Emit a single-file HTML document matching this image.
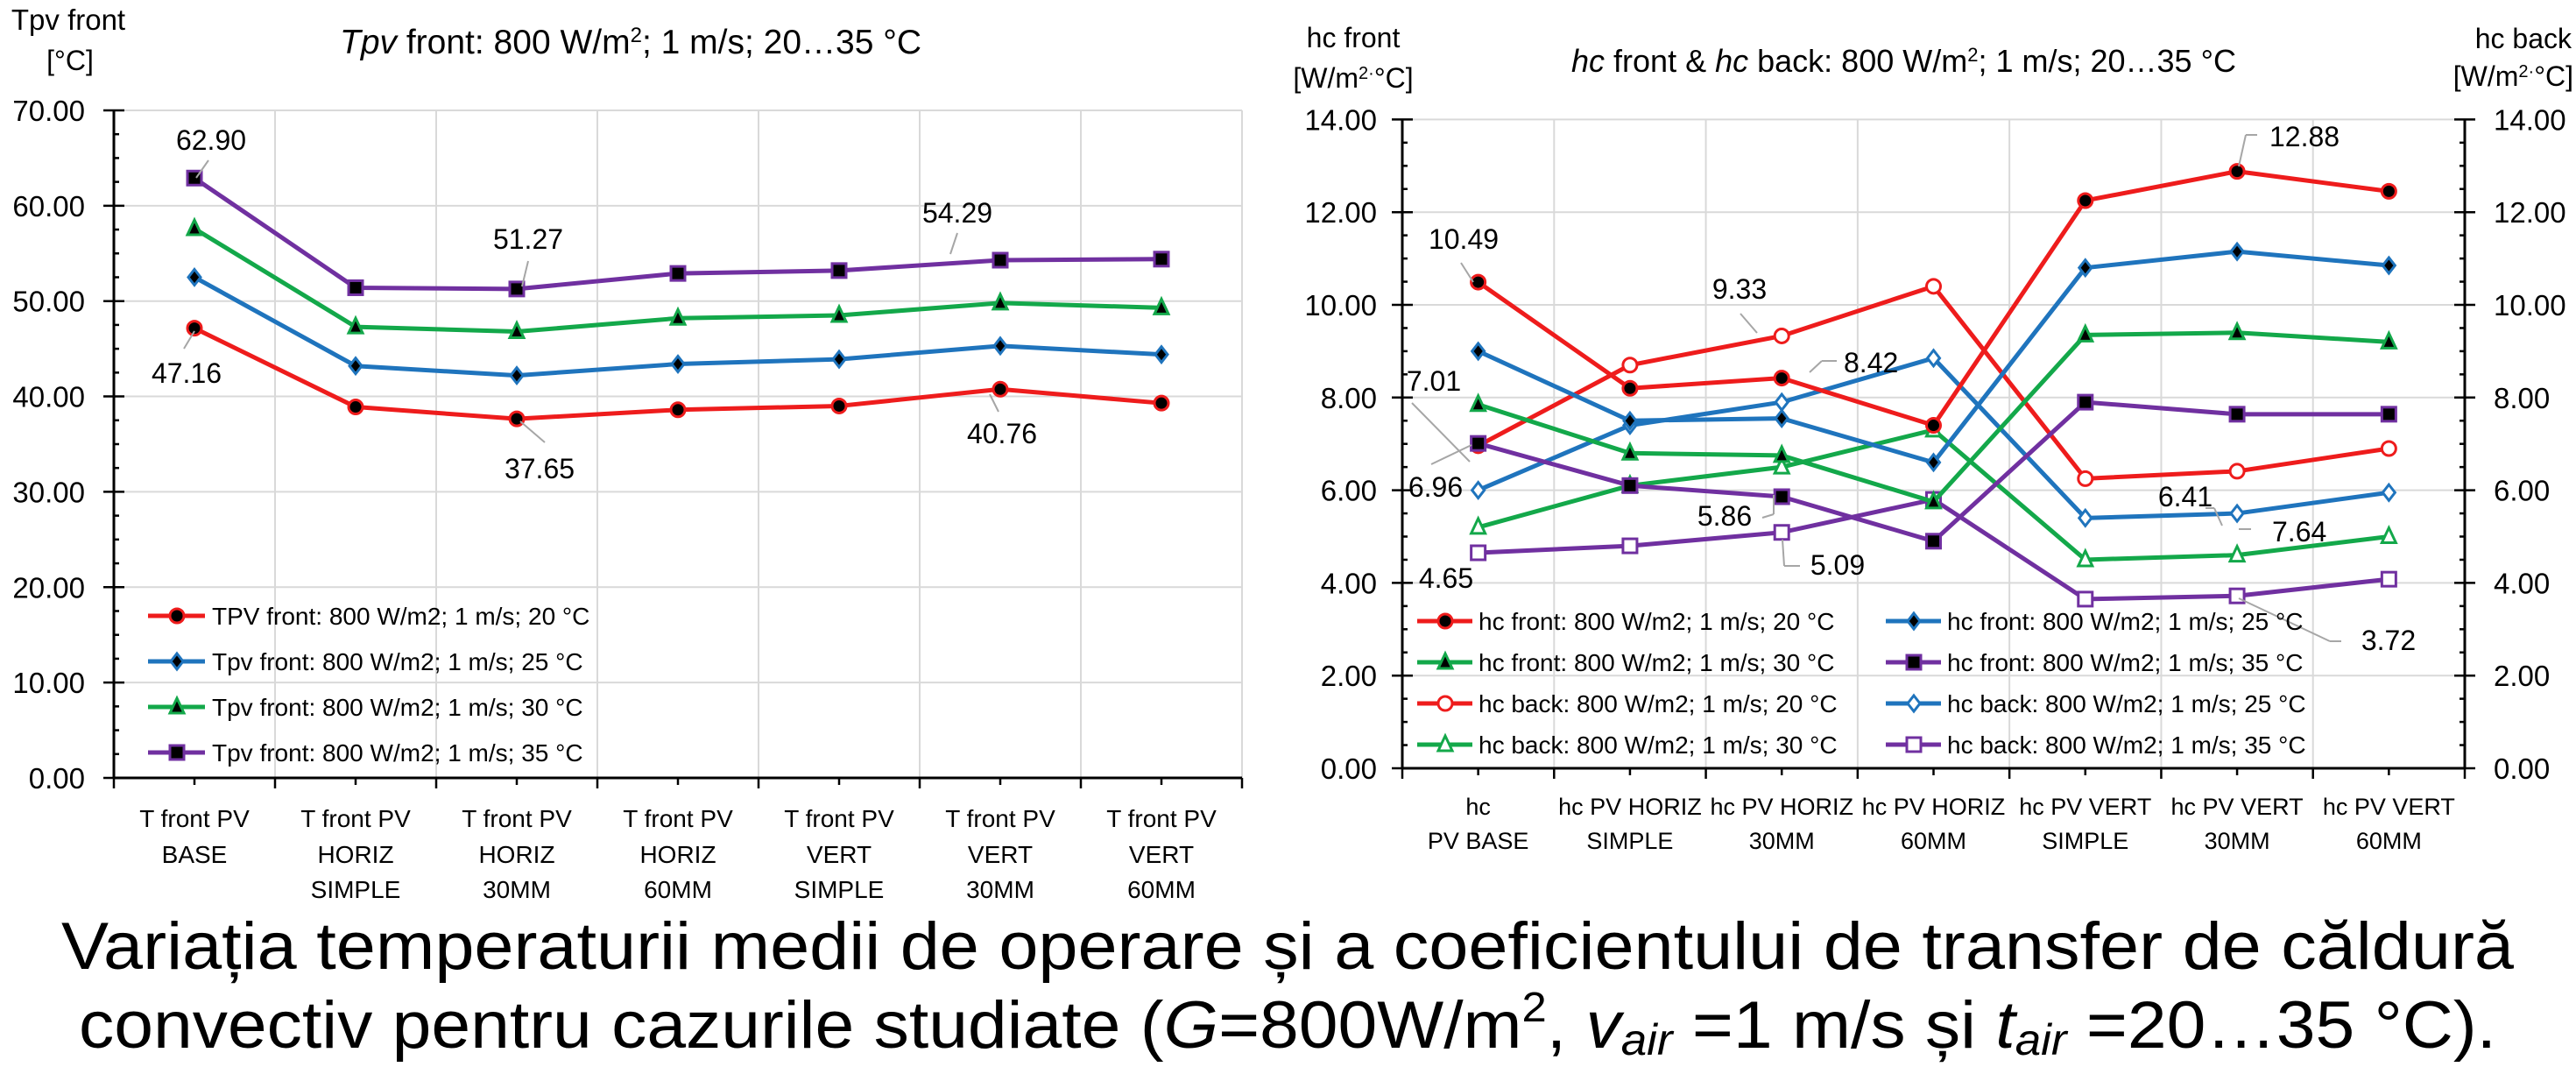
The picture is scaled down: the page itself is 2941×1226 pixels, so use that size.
<!DOCTYPE html>
<html><head><meta charset="utf-8"><style>
html,body{margin:0;padding:0;background:#fff;}
svg{display:block;font-family:"Liberation Sans",sans-serif;}
</style></head><body>
<svg id="s" width="2941" height="1226" xmlns="http://www.w3.org/2000/svg">
<rect width="2941" height="1226" fill="#fff"/>
<text x="78" y="34" font-size="33" text-anchor="middle">Tpv front</text>
<text x="80" y="80" font-size="32" text-anchor="middle">[°C]</text>
<text x="388" y="61" font-size="39"><tspan font-style="italic">Tpv</tspan> front: 800 W/m<tspan font-size="24" dy="-13">2</tspan><tspan dy="13">; 1 m/s; 20…35 °C</tspan></text>
<text x="1545" y="54" font-size="32" text-anchor="middle">hc front</text>
<text x="1545" y="100" font-size="32" text-anchor="middle">[W/m<tspan font-size="20" dy="-10">2·</tspan><tspan dy="10">°C]</tspan></text>
<text x="1794" y="82" font-size="36"><tspan font-style="italic">hc</tspan> front &amp; <tspan font-style="italic">hc</tspan> back: 800 W/m<tspan font-size="22" dy="-12">2</tspan><tspan dy="12">; 1 m/s; 20…35 °C</tspan></text>
<text x="2936" y="55" font-size="32" text-anchor="end">hc back</text>
<text x="2938" y="98" font-size="32" text-anchor="end">[W/m<tspan font-size="20" dy="-10">2·</tspan><tspan dy="10">°C]</tspan></text>
<text x="1470" y="1106" font-size="76" text-anchor="middle" textLength="2800" lengthAdjust="spacingAndGlyphs">Variația temperaturii medii de operare și a coeficientului de transfer de căldură</text>
<text x="1470" y="1196" font-size="76" text-anchor="middle" textLength="2760" lengthAdjust="spacingAndGlyphs">convectiv pentru cazurile studiate (<tspan font-style="italic">G</tspan>=800W/m<tspan font-size="48" dy="-30">2</tspan><tspan dy="30">, </tspan><tspan font-style="italic">v</tspan><tspan font-style="italic" font-size="50" dy="8">air</tspan><tspan dy="-8"> =1 m/s și </tspan><tspan font-style="italic">t</tspan><tspan font-style="italic" font-size="50" dy="8">air</tspan><tspan dy="-8"> =20…35 °C).</tspan></text>
<g id="g"></g>
</svg>
<script>
var NS="http://www.w3.org/2000/svg",g=document.getElementById('g');
function el(t,a,txt){var e=document.createElementNS(NS,t);for(var k in a)e.setAttribute(k,a[k]);if(txt!=null)e.textContent=txt;g.appendChild(e);return e;}
var RED='#ee1c1c',BLUE='#1f74bd',GREEN='#13a84a',PUR='#7030a0';
function marker(type,x,y,col,filled){
 var f=filled?'#000':'#fff',sw=3;
 if(type=='c')el('circle',{cx:x,cy:y,r:8,fill:f,stroke:col,'stroke-width':sw});
 else if(type=='d')el('polygon',{points:(x)+','+(y-9)+' '+(x+7)+','+y+' '+x+','+(y+9)+' '+(x-7)+','+y,fill:f,stroke:col,'stroke-width':sw});
 else if(type=='t')el('polygon',{points:x+','+(y-10)+' '+(x+8)+','+(y+7)+' '+(x-8)+','+(y+7),fill:f,stroke:col,'stroke-width':sw});
 else el('rect',{x:x-8,y:y-8,width:16,height:16,fill:f,stroke:col,'stroke-width':sw});
}
function series(xs,ys,col,type,filled){
 var p=xs.map(function(x,i){return x+','+ys[i]}).join(' ');
 el('polyline',{points:p,fill:'none',stroke:col,'stroke-width':5,'stroke-linejoin':'round'});
 xs.forEach(function(x,i){marker(type,x,ys[i],col,filled)});
}
var L0=130,L1=1418,LY0=888,LS=10.886;
function ly(v){return LY0-v*LS}
for(var v=0;v<=70;v+=10){el('line',{x1:L0,x2:L1,y1:ly(v),y2:ly(v),stroke:'#d9d9d9','stroke-width':2});
 el('text',{x:97,y:ly(v)+12,'font-size':33,'text-anchor':'end'},v.toFixed(2));}
for(var i=1;i<=7;i++){var x=L0+i*184;el('line',{x1:x,x2:x,y1:ly(70),y2:LY0,stroke:'#d9d9d9','stroke-width':2});}
for(var v=0;v<=70;v+=2.5){el('line',{x1:L0-(v%10==0?12:0),x2:L0+(v%10==0?12:6),y1:ly(v),y2:ly(v),stroke:'#000','stroke-width':2.5});}
el('line',{x1:L0,x2:L0,y1:ly(70),y2:LY0,stroke:'#000','stroke-width':3});
el('line',{x1:L0,x2:L1,y1:LY0,y2:LY0,stroke:'#000','stroke-width':3});
for(var i=0;i<=14;i++){var x=L0+i*92;el('line',{x1:x,x2:x,y1:LY0,y2:LY0+(i%2==0?12:8),stroke:'#000','stroke-width':2.5});}
var lx=[];for(var i=0;i<7;i++)lx.push(L0+92+i*184);
var l2=['BASE','HORIZ','HORIZ','HORIZ','VERT','VERT','VERT'],l3=['','SIMPLE','30MM','60MM','SIMPLE','30MM','60MM'];
lx.forEach(function(x,i){el('text',{x:x,y:944,'font-size':28,'text-anchor':'middle'},'T front PV');el('text',{x:x,y:985,'font-size':28,'text-anchor':'middle'},l2[i]);if(l3[i])el('text',{x:x,y:1025,'font-size':28,'text-anchor':'middle'},l3[i]);});
var T20=[47.16,38.9,37.65,38.6,39.0,40.76,39.3],T25=[52.5,43.2,42.2,43.4,43.9,45.3,44.4],T30=[57.6,47.3,46.8,48.2,48.5,49.8,49.3],T35=[62.90,51.4,51.27,52.9,53.2,54.29,54.4];
series(lx,T20.map(ly),RED,'c',1);series(lx,T25.map(ly),BLUE,'d',1);series(lx,T30.map(ly),GREEN,'t',1);series(lx,T35.map(ly),PUR,'s',1);
function lead(x1,y1,x2,y2){el('line',{x1:x1,y1:y1,x2:x2,y2:y2,stroke:'#a6a6a6','stroke-width':2});}
function lab(x,y,t,a){el('text',{x:x,y:y,'font-size':32,'text-anchor':a||'middle'},t);}
lab(241,171,'62.90');lead(238,183,224,203);
lab(213,437,'47.16');lead(210,398,222,378);
lab(603,284,'51.27');lead(603,298,596,327);
lab(616,546,'37.65');lead(622,505,594,481);
lab(1093,254,'54.29');lead(1093,266,1085,290);
lab(1144,506,'40.76');lead(1140,470,1130,450);
var legL=['TPV front: 800 W/m2; 1 m/s; 20 °C','Tpv front: 800 W/m2; 1 m/s; 25 °C','Tpv front: 800 W/m2; 1 m/s; 30 °C','Tpv front: 800 W/m2; 1 m/s; 35 °C'];
var cols=[RED,BLUE,GREEN,PUR],typs=['c','d','t','s'];
legL.forEach(function(t,i){var y=703+i*52;el('line',{x1:169,x2:234,y1:y,y2:y,stroke:cols[i],'stroke-width':5});marker(typs[i],202,y,cols[i],1);el('text',{x:242,y:y+10,'font-size':28},t);});
var R0=1601,R1=2814,RY0=877,RS=52.9;
function ry(v){return RY0-v*RS}
for(var v=0;v<=14;v+=2){el('line',{x1:R0,x2:R1,y1:ry(v),y2:ry(v),stroke:'#d9d9d9','stroke-width':2});
 el('text',{x:1572,y:ry(v)+12,'font-size':33,'text-anchor':'end'},v.toFixed(2));
 el('text',{x:2847,y:ry(v)+12,'font-size':33},v.toFixed(2));}
var RW=(R1-R0)/7;
for(var i=1;i<7;i++){var x=R0+i*RW;el('line',{x1:x,x2:x,y1:ry(14),y2:RY0,stroke:'#d9d9d9','stroke-width':2});}
for(var v=0;v<=14;v+=0.5){var m=(Math.abs(v%2)<1e-6);
 el('line',{x1:R0-(m?12:0),x2:R0+(m?12:6),y1:ry(v),y2:ry(v),stroke:'#000','stroke-width':2.5});
 el('line',{x1:R1-(m?12:6),x2:R1+(m?12:0),y1:ry(v),y2:ry(v),stroke:'#000','stroke-width':2.5});}
el('line',{x1:R0,x2:R0,y1:ry(14),y2:RY0,stroke:'#000','stroke-width':3});
el('line',{x1:R1,x2:R1,y1:ry(14),y2:RY0,stroke:'#000','stroke-width':3});
el('line',{x1:R0,x2:R1,y1:RY0,y2:RY0,stroke:'#000','stroke-width':3});
for(var i=0;i<=14;i++){var x=R0+i*RW/2;el('line',{x1:x,x2:x,y1:RY0,y2:RY0+(i%2==0?12:8),stroke:'#000','stroke-width':2.5});}
var rx=[];for(var i=0;i<7;i++)rx.push(R0+RW/2+i*RW);
var r1=['hc','hc PV HORIZ','hc PV HORIZ','hc PV HORIZ','hc PV VERT','hc PV VERT','hc PV VERT'],r2=['PV BASE','SIMPLE','30MM','60MM','SIMPLE','30MM','60MM'];
rx.forEach(function(x,i){el('text',{x:x,y:930,'font-size':27,'text-anchor':'middle'},r1[i]);el('text',{x:x,y:969,'font-size':27,'text-anchor':'middle'},r2[i]);});
var D={f20:[10.49,8.2,8.42,7.4,12.25,12.88,12.45],f25:[9.0,7.5,7.55,6.6,10.8,11.15,10.85],f30:[7.85,6.8,6.75,5.75,9.35,9.4,9.2],f35:[7.01,6.1,5.86,4.9,7.9,7.64,7.64],
b20:[6.96,8.7,9.33,10.4,6.25,6.41,6.9],b25:[6.0,7.4,7.9,8.85,5.4,5.5,5.95],b30:[5.2,6.1,6.5,7.3,4.5,4.6,5.0],b35:[4.65,4.8,5.09,5.8,3.65,3.72,4.08]};
series(rx,D.b35.map(ry),PUR,'s',0);series(rx,D.b30.map(ry),GREEN,'t',0);series(rx,D.b25.map(ry),BLUE,'d',0);series(rx,D.b20.map(ry),RED,'c',0);
series(rx,D.f35.map(ry),PUR,'s',1);series(rx,D.f30.map(ry),GREEN,'t',1);series(rx,D.f25.map(ry),BLUE,'d',1);series(rx,D.f20.map(ry),RED,'c',1);
lab(1671,284,'10.49');lead(1668,300,1682,322);
lab(1986,341,'9.33');lead(1987,358,2006,380);
lab(2105,425,'8.42','start');lead(2097,412,2080,412);lead(2080,412,2066,425);
lab(1637,446,'7.01');lead(1612,460,1678,527);
lab(1639,567,'6.96');lead(1634,530,1680,508);
lab(1969,600,'5.86');lead(2012,591,2025,587);lead(2025,587,2025,565);
lab(2098,656,'5.09');lead(2055,646,2037,646);lead(2037,646,2035,616);
lab(1651,671,'4.65');
lab(2727,742,'3.72');lead(2673,732,2660,732);lead(2660,732,2556,683);
lab(2591,167,'12.88','start');lead(2577,154,2564,154);lead(2564,154,2556,190);
lab(2495,578,'6.41');lead(2518,580,2528,580);lead(2528,580,2537,600);
lab(2594,618,'7.64','start');lead(2570,604,2556,604);
var legR=[['hc front: 800 W/m2; 1 m/s; 20 °C',RED,'c',1],['hc front: 800 W/m2; 1 m/s; 25 °C',BLUE,'d',1],['hc front: 800 W/m2; 1 m/s; 30 °C',GREEN,'t',1],['hc front: 800 W/m2; 1 m/s; 35 °C',PUR,'s',1],
['hc back: 800 W/m2; 1 m/s; 20 °C',RED,'c',0],['hc back: 800 W/m2; 1 m/s; 25 °C',BLUE,'d',0],['hc back: 800 W/m2; 1 m/s; 30 °C',GREEN,'t',0],['hc back: 800 W/m2; 1 m/s; 35 °C',PUR,'s',0]];
legR.forEach(function(e,i){var c=i%2,r=Math.floor(i/2),x=c?2153:1618,y=709+r*47;el('line',{x1:x,x2:x+63,y1:y,y2:y,stroke:e[1],'stroke-width':5});marker(e[2],x+32,y,e[1],e[3]);el('text',{x:x+70,y:y+10,'font-size':28},e[0]);});
</script>
</body></html>
